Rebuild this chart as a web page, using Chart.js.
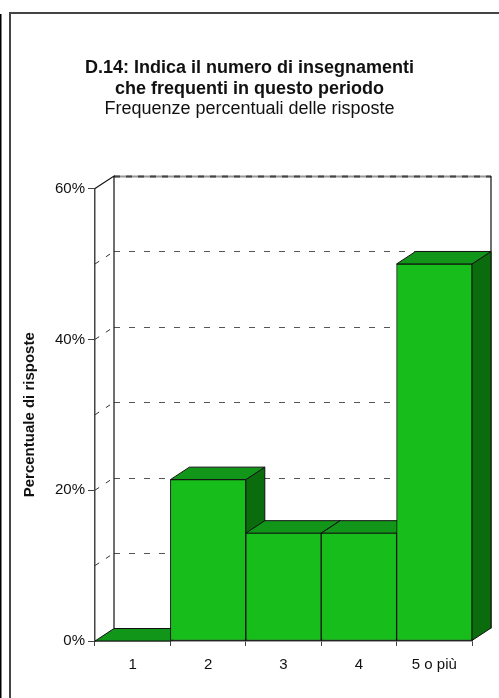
<!DOCTYPE html>
<html>
<head>
<meta charset="utf-8">
<script src="https://cdn.jsdelivr.net/npm/chart.js@4/dist/chart.umd.min.js"></script>
<style>
  html, body { margin: 0; padding: 0; background: #fff; }
  #wrap { position: relative; width: 499px; height: 698px; overflow: hidden; }
</style>
</head>
<body>
<div id="wrap"><canvas id="chart" width="499" height="698"></canvas></div>
<script>
// Data
const categories = ['1', '2', '3', '4', '5 o più'];
const percentValues = [0, 21.4, 14.3, 14.3, 50];
const yTickValues = [0, 20, 40, 60];
const wallGridValues = [10, 20, 30, 40, 50];

// 3D look
const DEPTH_X = 19;
const DEPTH_Y = 12.5;
const FRONT_COLOR = '#17BE1B';
const TOP_COLOR = '#12961A';
const SIDE_COLOR = '#0A6C0D';

function poly(ctx, pts, fill) {
    ctx.beginPath();
    ctx.moveTo(pts[0][0], pts[0][1]);
    for (let i = 1; i < pts.length; i++) ctx.lineTo(pts[i][0], pts[i][1]);
    ctx.closePath();
    ctx.fillStyle = fill;
    ctx.fill();
    ctx.strokeStyle = '#111';
    ctx.lineWidth = 1;
    ctx.stroke();
}

const frame3d = {
    id: 'frame3d',
    beforeDraw(chart) {
        const ctx = chart.ctx;
        ctx.save();
        // outer page frame
        ctx.fillStyle = '#000';
        ctx.fillRect(0, 14, 1.5, chart.height);
        ctx.strokeStyle = '#444';
        ctx.lineWidth = 2;
        ctx.beginPath();
        ctx.moveTo(10, chart.height);
        ctx.lineTo(10, 13);
        ctx.lineTo(chart.width, 13);
        ctx.stroke();
        ctx.restore();
    },
    beforeDatasetsDraw(chart) {
        const ctx = chart.ctx;
        const area = chart.chartArea;
        const y = chart.scales.y;
        const backL = area.left + DEPTH_X;
        const backR = area.right + DEPTH_X;
        const top = y.getPixelForValue(60);
        const base = y.getPixelForValue(0);
        ctx.save();

        // back wall gridlines
        ctx.strokeStyle = '#555';
        ctx.lineWidth = 1;
        ctx.setLineDash([6, 9]);
        wallGridValues.forEach(function (v) {
            const py = Math.round(y.getPixelForValue(v) - DEPTH_Y) + 0.5;
            ctx.beginPath();
            ctx.moveTo(backL, py);
            ctx.lineTo(backR, py);
            ctx.stroke();
        });
        // side wall stubs
        ctx.setLineDash([5, 8]);
        ctx.strokeStyle = '#333';
        wallGridValues.forEach(function (v) {
            const py = y.getPixelForValue(v);
            ctx.beginPath();
            ctx.moveTo(area.left, py);
            ctx.lineTo(backL, py - DEPTH_Y);
            ctx.stroke();
        });
        // top edge of back wall
        const ty = Math.round(top - DEPTH_Y) + 0.5;
        ctx.setLineDash([]);
        ctx.strokeStyle = '#999';
        ctx.lineWidth = 2;
        ctx.beginPath();
        ctx.moveTo(backL, ty);
        ctx.lineTo(backR, ty);
        ctx.stroke();
        ctx.setLineDash([6, 6]);
        ctx.strokeStyle = '#444';
        ctx.beginPath();
        ctx.moveTo(backL, ty);
        ctx.lineTo(backR, ty);
        ctx.stroke();

        // wall edges
        ctx.setLineDash([]);
        ctx.lineWidth = 1.2;
        ctx.strokeStyle = '#111';
        ctx.beginPath();
        ctx.moveTo(area.left, top);
        ctx.lineTo(backL, top - DEPTH_Y);
        ctx.lineTo(backL, base - DEPTH_Y);
        ctx.moveTo(backR, top - DEPTH_Y);
        ctx.lineTo(backR, base - DEPTH_Y);
        ctx.stroke();

        // depth faces of the bars, left to right
        const meta = chart.getDatasetMeta(0);
        meta.data.forEach(function (bar) {
            const p = bar.getProps(['x', 'y', 'base', 'width'], true);
            const l = p.x - p.width / 2;
            const r = p.x + p.width / 2;
            poly(ctx, [[r, p.y], [r + DEPTH_X, p.y - DEPTH_Y], [r + DEPTH_X, p.base - DEPTH_Y], [r, p.base]], SIDE_COLOR);
            poly(ctx, [[l, p.y], [l + DEPTH_X, p.y - DEPTH_Y], [r + DEPTH_X, p.y - DEPTH_Y], [r, p.y]], TOP_COLOR);
        });
        ctx.restore();
    }
};

Chart.defaults.font.family = "'Liberation Sans', Arial, Helvetica, sans-serif";
Chart.defaults.color = '#111';

new Chart(document.getElementById('chart'), {
    type: 'bar',
    data: {
        labels: categories,
        datasets: [{
            data: percentValues,
            backgroundColor: FRONT_COLOR,
            borderColor: '#111',
            borderWidth: 1,
            borderSkipped: false,
            barPercentage: 1,
            categoryPercentage: 1
        }]
    },
    options: {
        responsive: false,
        animation: false,
        events: [],
        layout: { padding: 0 },
        plugins: {
            legend: { display: false },
            tooltip: { enabled: false },
            title: {
                display: true,
                text: ['D.14: Indica il numero di insegnamenti', 'che frequenti in questo periodo'],
                font: { size: 18, weight: 'bold', lineHeight: 1.14 },
                color: '#111',
                padding: { top: 58, bottom: 0 }
            },
            subtitle: {
                display: true,
                text: 'Frequenze percentuali delle risposte',
                font: { size: 18, weight: 'normal', lineHeight: 1.14 },
                color: '#111',
                padding: { top: 0, bottom: 69 }
            }
        },
        scales: {
            x: {
                grid: { drawOnChartArea: false, drawTicks: true, tickLength: 5, color: '#444', offset: true },
                border: { display: true, color: '#444', width: 1.5 },
                ticks: { font: { size: 15 }, padding: 10, color: '#111' },
                afterFit: function (scale) { scale.height = 57; }
            },
            y: {
                min: 0,
                max: 60,
                afterBuildTicks: function (scale) {
                    scale.ticks = yTickValues.map(function (v) { return { value: v }; });
                },
                grid: { drawOnChartArea: false, drawTicks: true, tickLength: 7, color: '#444' },
                border: { display: true, color: '#444', width: 1.5 },
                ticks: {
                    font: { size: 15 },
                    padding: 3,
                    color: '#111',
                    callback: function (v) { return v + '%'; }
                },
                title: {
                    display: true,
                    text: 'Percentuale di risposte',
                    font: { size: 15, weight: 'bold' },
                    color: '#111',
                    padding: { top: 21, bottom: 0 }
                },
                afterFit: function (scale) { scale.width = 95; }
            },
            // empty right axis that only reserves room for the depth
            depth: {
                type: 'linear',
                position: 'right',
                grid: { display: false },
                border: { display: false },
                ticks: { display: false },
                afterFit: function (scale) { scale.width = 27; }
            }
        }
    },
    plugins: [frame3d]
});
</script>
</body>
</html>
